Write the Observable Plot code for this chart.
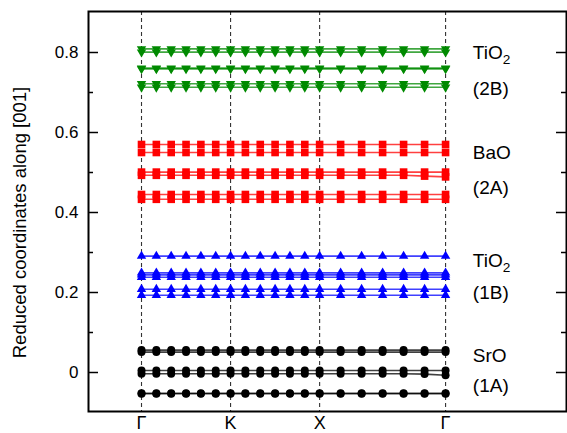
<!DOCTYPE html>
<html><head><meta charset="utf-8">
<script src="https://cdn.jsdelivr.net/npm/d3@7"></script>
<script src="https://cdn.jsdelivr.net/npm/@observablehq/plot@0.6"></script>
<style>
html,body{margin:0;padding:0;background:#fff;}
#chart svg{display:block;font-family:"Liberation Sans",Arial,Helvetica,sans-serif;}
</style>
</head><body><div id="chart"></div>
<script>
// k-path positions of the 19 calculated points (Γ–K–X–Γ)
const kPoints = [0, 0.0833, 0.1667, 0.25, 0.3333, 0.4167, 0.5, 0.5833, 0.6667, 0.75, 0.8333, 0.9167, 1, 1.1179, 1.2357, 1.3536, 1.4714, 1.5893, 1.7071];
const kTickPos = [0, 0.5, 1, 1.7071];
const kTickLabels = ["Γ", "K", "X", "Γ"];
const yMajorTicks = [0, 0.2, 0.4, 0.6, 0.8];
const yMinorTicks = [0.1, 0.3, 0.5, 0.7];

// Layer 2B: TiO2 (green, down triangles)
const tio2_2B = [
  [0.809,0.809,0.809,0.809,0.809,0.809,0.809,0.809,0.809,0.809,0.809,0.809,0.809,0.809,0.809,0.809,0.809,0.809,0.809],
  [0.801,0.801,0.801,0.801,0.801,0.801,0.801,0.801,0.801,0.801,0.801,0.801,0.801,0.801,0.801,0.801,0.801,0.801,0.801],
  [0.761,0.761,0.761,0.761,0.761,0.761,0.761,0.761,0.761,0.761,0.761,0.761,0.761,0.761,0.761,0.761,0.761,0.761,0.761],
  [0.759,0.759,0.759,0.759,0.759,0.759,0.759,0.759,0.759,0.759,0.759,0.759,0.759,0.759,0.759,0.759,0.759,0.759,0.759],
  [0.722,0.722,0.722,0.722,0.722,0.722,0.722,0.722,0.722,0.722,0.722,0.722,0.722,0.722,0.722,0.722,0.722,0.722,0.722],
  [0.713,0.713,0.713,0.713,0.713,0.713,0.713,0.713,0.713,0.713,0.713,0.713,0.713,0.713,0.713,0.713,0.713,0.713,0.713]
];
// Layer 2A: BaO (red, squares)
const bao_2A = [
  [0.570,0.570,0.570,0.570,0.570,0.570,0.570,0.570,0.570,0.570,0.570,0.570,0.570,0.570,0.570,0.570,0.570,0.570,0.570],
  [0.550,0.550,0.550,0.550,0.550,0.550,0.550,0.550,0.550,0.550,0.550,0.550,0.550,0.550,0.550,0.550,0.550,0.550,0.550],
  [0.501,0.501,0.501,0.501,0.501,0.501,0.501,0.501,0.501,0.501,0.501,0.501,0.501,0.501,0.501,0.501,0.501,0.501,0.501],
  [0.493,0.493,0.493,0.493,0.493,0.493,0.493,0.493,0.493,0.493,0.493,0.493,0.493,0.493,0.493,0.493,0.493,0.491,0.489],
  [0.445,0.445,0.445,0.445,0.445,0.445,0.445,0.445,0.445,0.445,0.445,0.445,0.445,0.445,0.445,0.445,0.445,0.445,0.445],
  [0.433,0.433,0.433,0.433,0.433,0.433,0.433,0.433,0.433,0.433,0.433,0.433,0.433,0.433,0.433,0.433,0.433,0.433,0.433]
];
// Layer 1B: TiO2 (blue, up triangles)
const tio2_1B = [
  [0.291,0.291,0.291,0.291,0.291,0.291,0.291,0.291,0.291,0.291,0.291,0.291,0.291,0.291,0.291,0.291,0.291,0.291,0.291],
  [0.249,0.249,0.249,0.249,0.249,0.249,0.249,0.249,0.249,0.249,0.249,0.249,0.249,0.249,0.249,0.249,0.249,0.249,0.249],
  [0.244,0.244,0.244,0.244,0.244,0.244,0.244,0.244,0.244,0.244,0.244,0.244,0.244,0.244,0.244,0.244,0.244,0.244,0.244],
  [0.238,0.238,0.238,0.238,0.238,0.238,0.238,0.238,0.238,0.238,0.238,0.238,0.238,0.238,0.238,0.238,0.238,0.238,0.238],
  [0.208,0.208,0.208,0.208,0.208,0.208,0.208,0.208,0.208,0.208,0.208,0.208,0.208,0.208,0.208,0.208,0.208,0.208,0.208],
  [0.193,0.193,0.193,0.193,0.193,0.193,0.193,0.193,0.193,0.193,0.193,0.193,0.193,0.193,0.193,0.193,0.193,0.193,0.193]
];
// Layer 1A: SrO (black, circles)
const sro_1A = [
  [0.056,0.056,0.056,0.056,0.056,0.056,0.056,0.056,0.056,0.056,0.056,0.056,0.056,0.056,0.056,0.056,0.056,0.056,0.056],
  [0.051,0.051,0.051,0.051,0.051,0.051,0.051,0.051,0.051,0.051,0.051,0.051,0.051,0.051,0.051,0.051,0.051,0.051,0.051],
  [0.005,0.005,0.005,0.005,0.005,0.005,0.005,0.005,0.005,0.005,0.005,0.005,0.005,0.005,0.005,0.005,0.005,0.005,0.005],
  [-0.003,-0.003,-0.003,-0.003,-0.003,-0.003,-0.003,-0.003,-0.003,-0.003,-0.003,-0.003,-0.003,-0.003,-0.003,-0.003,-0.003,-0.004,-0.007],
  [-0.052,-0.052,-0.052,-0.052,-0.052,-0.052,-0.052,-0.052,-0.052,-0.052,-0.052,-0.052,-0.052,-0.052,-0.052,-0.052,-0.052,-0.052,-0.052],
  [-0.053,-0.053,-0.053,-0.053,-0.053,-0.053,-0.053,-0.053,-0.053,-0.053,-0.053,-0.053,-0.053,-0.053,-0.053,-0.053,-0.053,-0.053,-0.053]
];

const groupLabels = ["TiO2", "(2B)", "BaO", "(2A)", "TiO2", "(1B)", "SrO", "(1A)"];
const groupLabelY = [0.800, 0.710, 0.550, 0.4625, 0.280, 0.200, 0.0425, -0.0325];
const groupLabelX = 1.86;
const yTitle = "Reduced coordinates along [001]";

// down-pointing triangle symbol
const sqrt3 = Math.sqrt(3);
const triangleDown = {
  draw(context, size) {
    const y = -Math.sqrt(size / (sqrt3 * 3));
    context.moveTo(0, -y * 2);
    context.lineTo(-sqrt3 * y, y);
    context.lineTo(sqrt3 * y, y);
    context.closePath();
  }
};

const groups = [
  {lines: tio2_2B, color: "#008a00", symbol: triangleDown, r: 3.5},
  {lines: bao_2A, color: "#ff0000", symbol: "square", r: 4.3},
  {lines: tio2_1B, color: "#0000ff", symbol: "triangle", r: 3.5},
  {lines: sro_1A, color: "#000000", symbol: "circle", r: 4}
];

function rows(lines) {
  const out = [];
  lines.forEach((vals, s) => vals.forEach((v, i) => out.push({k: kPoints[i], y: v, s})));
  return out;
}

const W = 567, H = 433;
const mL = 88, mR = 1, mT = 11, mB = 22;
const plotW = W - mL - mR;

const marks = [];
marks.push(Plot.ruleX(kTickPos, {stroke: "#333", strokeWidth: 1.1, strokeDasharray: "4,3"}));
for (const g of groups) {
  const data = rows(g.lines);
  marks.push(Plot.line(data, {x: "k", y: "y", z: "s", stroke: g.color, strokeWidth: 1.6, strokeOpacity: 0.75}));
  marks.push(Plot.dot(data, {x: "k", y: "y", symbol: g.symbol, r: g.r, fill: g.color, stroke: "none"}));
}
// inward ticks, left and right
marks.push(Plot.tickY(yMajorTicks, {y: d => d, insetRight: plotW - 10, strokeWidth: 1.5, stroke: "#000"}));
marks.push(Plot.tickY(yMinorTicks, {y: d => d, insetRight: plotW - 5, strokeWidth: 1.5, stroke: "#000"}));
marks.push(Plot.tickY(yMajorTicks, {y: d => d, insetLeft: plotW - 10, strokeWidth: 1.5, stroke: "#000"}));
marks.push(Plot.tickY(yMinorTicks, {y: d => d, insetLeft: plotW - 5, strokeWidth: 1.5, stroke: "#000"}));
marks.push(Plot.axisY({ticks: yMajorTicks, tickSize: 0, tickPadding: 10, fontSize: 17, label: null,
  tickFormat: d => d === 0 ? "0" : d.toFixed(1)}));
const kLabelMap = new Map(kTickPos.map((p, i) => [p, kTickLabels[i]]));
marks.push(Plot.axisX({ticks: kTickPos, tickSize: 0, tickPadding: 5, fontSize: 18, label: null,
  tickFormat: d => kLabelMap.get(d)}));
marks.push(Plot.text(groupLabels, {x: () => groupLabelX, y: (d, i) => groupLabelY[i], text: d => d,
  textAnchor: "start", fontSize: 19, fill: "#000"}));
marks.push(Plot.text([yTitle], {frameAnchor: "left", textAnchor: "middle", rotate: -90, dx: -68, dy: 11, fontSize: 18.5, fill: "#000"}));
marks.push(Plot.frame({stroke: "#000", strokeWidth: 2}));

const chart = Plot.plot({
  width: W, height: H,
  marginLeft: mL, marginRight: mR, marginTop: mT, marginBottom: mB,
  x: {domain: [-0.2976, 2.386]},
  y: {domain: [-0.0975, 0.9025]},
  style: {fontFamily: '"Liberation Sans", Arial, Helvetica, sans-serif', color: "#000", background: "#fff"},
  marks
});
document.getElementById("chart").appendChild(chart);

// subscript for TiO2 labels
d3.select(chart).selectAll("text").each(function() {
  if (this.textContent === "TiO2") {
    const t = d3.select(this);
    t.text("TiO");
    t.append("tspan").attr("dy", "0.4em").attr("font-size", "0.72em").text("2");
  }
});
</script>
</body></html>
